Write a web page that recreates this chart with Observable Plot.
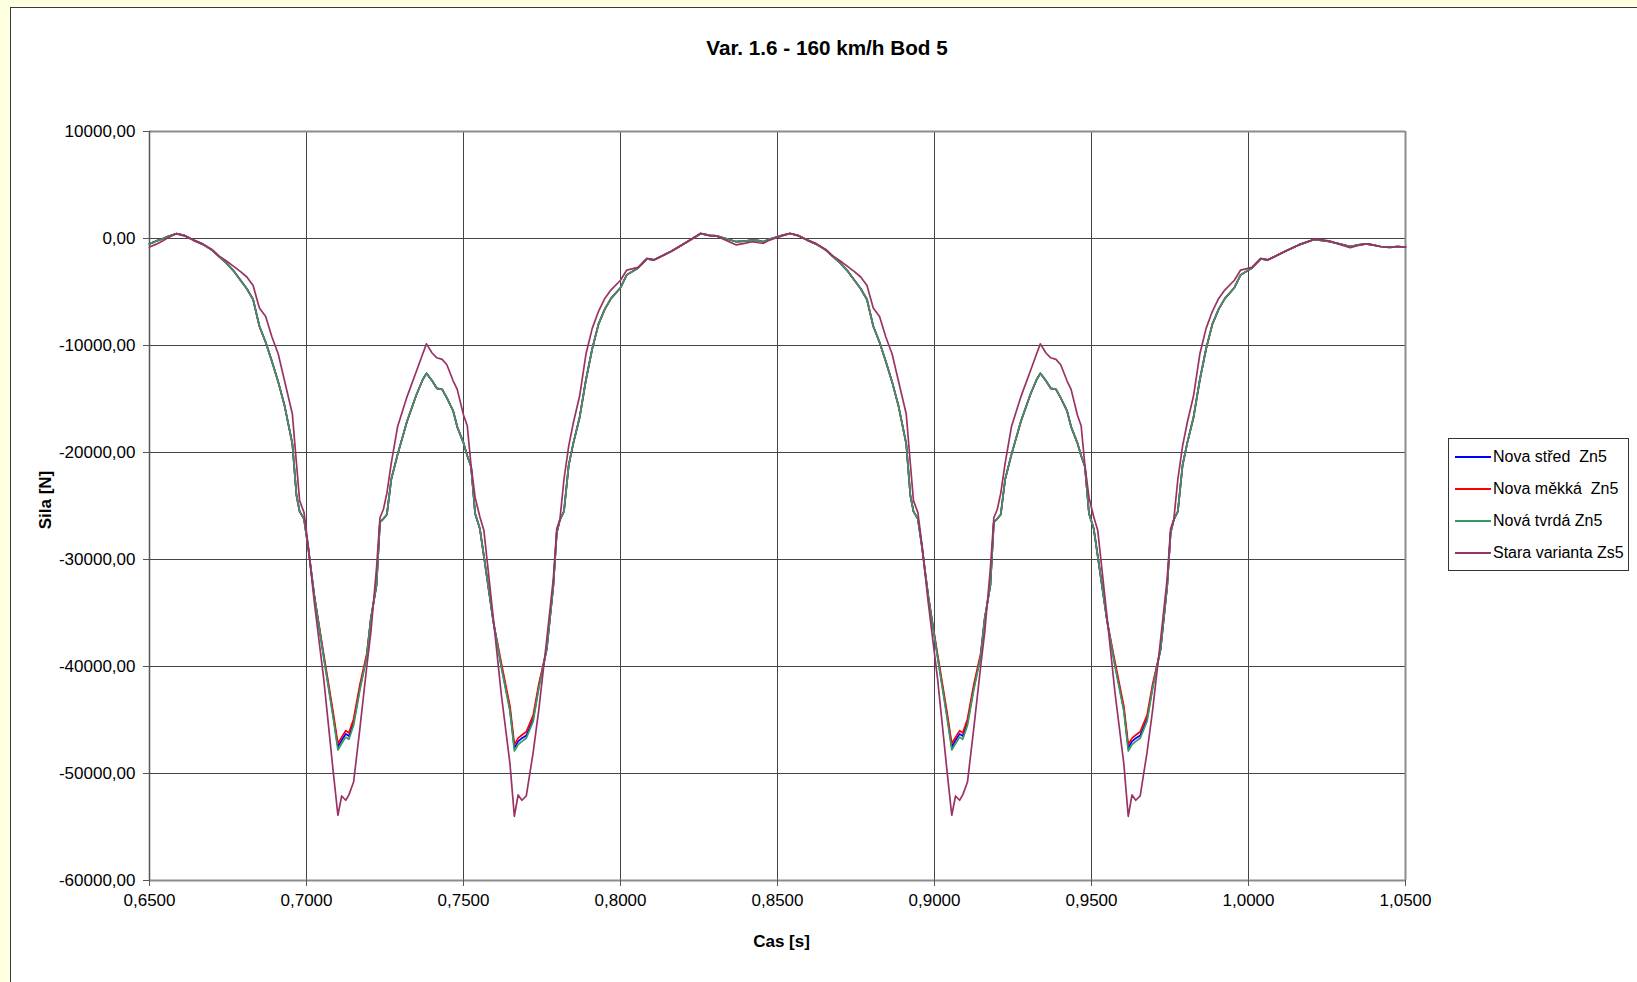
<!DOCTYPE html>
<html><head><meta charset="utf-8">
<script src="https://cdn.jsdelivr.net/npm/d3@7"></script>
<script src="https://cdn.jsdelivr.net/npm/@observablehq/plot@0.6"></script>
<style>
html,body{margin:0;padding:0;}
body{width:1637px;height:982px;overflow:hidden;background:#ffffe1;font-family:"Liberation Sans",Arial,sans-serif;position:relative;}
#panel{position:absolute;left:10px;top:7px;width:1640px;height:990px;background:#fff;border-left:1px solid #3a3a3a;border-top:1px solid #3a3a3a;}
#title{height:70px;box-sizing:border-box;padding-top:30px;padding-left:6px;width:1626px;text-align:center;font-weight:bold;font-size:20.7px;line-height:20px;color:#000;}
#row{display:flex;align-items:flex-start;}
#legend{margin-left:3px;margin-top:360px;width:181px;box-sizing:border-box;border:1px solid #333;padding:2px 0 1px 6px;font-size:16px;color:#000;}
.item{height:32px;display:flex;align-items:center;white-space:pre;}
.swatch{width:36px;height:2px;margin-right:2px;}
</style></head>
<body>
<div id="panel">
  <div id="title">Var. 1.6 - 160 km/h Bod 5</div>
  <div id="row"><div id="chart"></div><div id="legend"></div></div>
</div>
<script>
const xTicks = [0.65, 0.70, 0.75, 0.80, 0.85, 0.90, 0.95, 1.00, 1.05];
const yTicks = [10000, 0, -10000, -20000, -30000, -40000, -50000, -60000];
const xLabel = "Cas [s]";
const yLabel = "Sila [N]";

const seriesNames = ["Nova střed  Zn5", "Nova měkká  Zn5", "Nová tvrdá Zn5", "Stara varianta Zs5"];
const seriesColors = ["#0000ff", "#ff0000", "#339966", "#993366"];

const time = [
 0.6500,0.6520,0.6540,0.6560,0.6585,0.6610,0.6640,0.6670,0.6700,0.6720,
 0.6745,0.6770,0.6790,0.6810,0.6830,0.6850,0.6870,0.6890,0.6910,0.6930,
 0.6955,0.6968,0.6978,0.6992,0.7005,0.7025,0.7055,0.7085,0.7100,0.7112,
 0.7125,0.7135,0.7150,0.7170,0.7192,0.7205,0.7223,0.7234,0.7245,0.7256,
 0.7270,0.7290,0.7320,0.7350,0.7370,0.7382,0.7400,0.7415,0.7432,0.7447,
 0.7467,0.7480,0.7500,0.7512,0.7524,0.7537,0.7552,0.7565,0.7595,0.7620,
 0.7648,0.7662,0.7674,0.7686,0.7700,0.7722,0.7740,0.7765,0.7786,0.7797,
 0.7807,0.7820,0.7835,0.7850,0.7870,0.7890,0.7910,0.7930,0.7950,0.7970,
 0.8000,0.8020,0.8056,0.8084,0.8106,0.8127,0.8162,0.8205,0.8255,0.8285,
 0.8305,0.8335,0.8369,0.8395,0.8420,0.8440,
 0.8455,0.8475,0.8495,0.8515,0.8540,0.8565,0.8595,0.8625,0.8655,0.8675,
 0.8700,0.8725,0.8745,0.8765,0.8785,0.8805,0.8825,0.8845,0.8865,0.8885,
 0.8910,0.8923,0.8933,0.8947,0.8960,0.8980,0.9010,0.9040,0.9055,0.9067,
 0.9080,0.9090,0.9105,0.9125,0.9147,0.9160,0.9178,0.9189,0.9200,0.9211,
 0.9225,0.9245,0.9275,0.9305,0.9325,0.9337,0.9355,0.9370,0.9387,0.9402,
 0.9422,0.9435,0.9455,0.9467,0.9479,0.9492,0.9507,0.9520,0.9550,0.9575,
 0.9603,0.9617,0.9629,0.9641,0.9655,0.9677,0.9695,0.9720,0.9741,0.9752,
 0.9762,0.9775,0.9790,0.9805,0.9825,0.9845,0.9865,0.9885,0.9905,0.9925,
 0.9955,0.9975,1.0011,1.0039,1.0061,1.0082,1.0117,1.0160,1.0210,1.0240,
 1.0260,1.0290,1.0324,1.0350,1.0375,1.0395,
 1.0420,1.0450,1.0475,1.0500
];

const novaStred = [
 -500,-250,-50,200,450,300,-150,-550,-1100,-1650,
 -2300,-3100,-3900,-4700,-5700,-8200,-9700,-11500,-13400,-15600,
 -19200,-24000,-25500,-26200,-28800,-33400,-39100,-44600,-47500,-46900,
 -46300,-46500,-45250,-42000,-39000,-35500,-32400,-26500,-26200,-25800,
 -22500,-20200,-17100,-14600,-13200,-12600,-13300,-14000,-14100,-14900,
 -16100,-17600,-19100,-20300,-21300,-25700,-27100,-29700,-35800,-39900,
 -44000,-47600,-47000,-46700,-46450,-44900,-41850,-38400,-32500,-27500,
 -26300,-25500,-21200,-19100,-16700,-13200,-10300,-8000,-6600,-5600,
 -4600,-3400,-2750,-1900,-2000,-1700,-1200,-450,450,300,
 250,0,-300,-250,-150,-200,
 -300,-50,100,300,450,300,-150,-550,-1100,-1650,
 -2300,-3100,-3900,-4700,-5700,-8200,-9700,-11500,-13400,-15600,
 -19200,-24000,-25500,-26200,-28800,-33400,-39100,-44600,-47500,-46900,
 -46300,-46500,-45250,-42000,-39000,-35500,-32400,-26500,-26200,-25800,
 -22500,-20200,-17100,-14600,-13200,-12600,-13300,-14000,-14100,-14900,
 -16100,-17600,-19100,-20300,-21300,-25700,-27100,-29700,-35800,-39900,
 -44000,-47600,-47000,-46700,-46450,-44900,-41850,-38400,-32500,-27500,
 -26300,-25500,-21200,-19100,-16700,-13200,-10300,-8000,-6600,-5600,
 -4600,-3400,-2750,-1900,-2000,-1700,-1200,-600,-100,-200,
 -300,-500,-750,-600,-500,-600,
 -750,-800,-750,-800
];

const novaMekka = [
 -500,-250,-50,200,450,300,-150,-550,-1100,-1650,
 -2300,-3100,-3900,-4700,-5700,-8200,-9700,-11500,-13400,-15600,
 -19200,-24000,-25500,-26200,-28800,-33400,-38900,-44300,-47200,-46600,
 -46000,-46200,-44900,-41700,-38800,-35500,-32400,-26500,-26200,-25800,
 -22500,-20200,-17100,-14600,-13200,-12600,-13300,-14000,-14100,-14900,
 -16100,-17600,-19100,-20300,-21300,-25700,-27100,-29700,-35800,-39600,
 -43700,-47300,-46700,-46400,-46100,-44550,-41600,-38400,-32500,-27500,
 -26300,-25500,-21200,-19100,-16700,-13200,-10300,-8000,-6600,-5600,
 -4600,-3400,-2750,-1900,-2000,-1700,-1200,-450,450,300,
 250,0,-300,-250,-150,-200,
 -300,-50,100,300,450,300,-150,-550,-1100,-1650,
 -2300,-3100,-3900,-4700,-5700,-8200,-9700,-11500,-13400,-15600,
 -19200,-24000,-25500,-26200,-28800,-33400,-38900,-44300,-47200,-46600,
 -46000,-46200,-44900,-41700,-38800,-35500,-32400,-26500,-26200,-25800,
 -22500,-20200,-17100,-14600,-13200,-12600,-13300,-14000,-14100,-14900,
 -16100,-17600,-19100,-20300,-21300,-25700,-27100,-29700,-35800,-39600,
 -43700,-47300,-46700,-46400,-46100,-44550,-41600,-38400,-32500,-27500,
 -26300,-25500,-21200,-19100,-16700,-13200,-10300,-8000,-6600,-5600,
 -4600,-3400,-2750,-1900,-2000,-1700,-1200,-600,-100,-200,
 -300,-500,-750,-600,-500,-600,
 -750,-800,-750,-800
];

const novaTvrda = [
 -500,-250,-50,200,450,300,-150,-550,-1100,-1650,
 -2300,-3100,-3900,-4700,-5700,-8200,-9700,-11500,-13400,-15600,
 -19200,-24000,-25500,-26200,-28800,-33400,-39200,-44800,-47800,-47200,
 -46600,-46800,-45500,-42200,-39100,-35500,-32400,-26500,-26200,-25800,
 -22500,-20200,-17100,-14600,-13200,-12600,-13300,-14000,-14100,-14900,
 -16100,-17600,-19100,-20300,-21300,-25700,-27100,-29700,-35800,-40000,
 -44200,-47900,-47300,-47000,-46700,-45100,-42000,-38400,-32500,-27500,
 -26300,-25500,-21200,-19100,-16700,-13200,-10300,-8000,-6600,-5600,
 -4600,-3400,-2750,-1900,-2000,-1700,-1200,-450,450,300,
 250,0,-300,-250,-150,-200,
 -300,-50,100,300,450,300,-150,-550,-1100,-1650,
 -2300,-3100,-3900,-4700,-5700,-8200,-9700,-11500,-13400,-15600,
 -19200,-24000,-25500,-26200,-28800,-33400,-39200,-44800,-47800,-47200,
 -46600,-46800,-45500,-42200,-39100,-35500,-32400,-26500,-26200,-25800,
 -22500,-20200,-17100,-14600,-13200,-12600,-13300,-14000,-14100,-14900,
 -16100,-17600,-19100,-20300,-21300,-25700,-27100,-29700,-35800,-40000,
 -44200,-47900,-47300,-47000,-46700,-45100,-42000,-38400,-32500,-27500,
 -26300,-25500,-21200,-19100,-16700,-13200,-10300,-8000,-6600,-5600,
 -4600,-3400,-2750,-1900,-2000,-1700,-1200,-600,-100,-200,
 -300,-500,-750,-600,-500,-600,
 -750,-800,-750,-800
];

const staraVarianta = [
 -800,-550,-250,100,450,250,-150,-500,-1050,-1600,
 -2100,-2650,-3100,-3600,-4400,-6500,-7300,-9200,-10800,-13300,
 -16400,-21000,-24500,-25600,-28600,-34000,-41200,-49800,-53900,-52100,
 -52500,-52000,-50800,-45800,-40000,-36800,-30800,-26100,-25300,-23800,
 -21000,-17600,-14800,-12400,-10800,-9850,-10700,-11150,-11300,-11800,
 -13300,-14100,-16500,-17500,-21200,-24200,-26000,-27300,-35500,-42500,
 -49100,-54000,-52000,-52500,-52100,-48000,-44000,-37500,-31800,-27100,
 -26300,-22500,-19400,-17200,-14700,-10800,-8400,-6800,-5600,-4800,
 -3900,-2950,-2700,-1850,-2000,-1700,-1200,-450,490,250,
 230,-150,-600,-450,-300,-400,
 -450,-150,50,250,490,250,-150,-500,-1050,-1600,
 -2100,-2650,-3100,-3600,-4400,-6500,-7300,-9200,-10800,-13300,
 -16400,-21000,-24500,-25600,-28600,-34000,-41200,-49800,-53900,-52100,
 -52500,-52000,-50800,-45800,-40000,-36800,-30800,-26100,-25300,-23800,
 -21000,-17600,-14800,-12400,-10800,-9850,-10700,-11150,-11300,-11800,
 -13300,-14100,-16500,-17500,-21200,-24200,-26000,-27300,-35500,-42500,
 -49100,-54000,-52000,-52500,-52100,-48000,-44000,-37500,-31800,-27100,
 -26300,-22500,-19400,-17200,-14700,-10800,-8400,-6800,-5600,-4800,
 -3900,-2950,-2700,-1850,-2000,-1700,-1200,-600,-50,-150,
 -250,-550,-850,-650,-500,-600,
 -750,-850,-750,-800
];

const seriesValues = [novaStred, novaMekka, novaTvrda, staraVarianta];
const fmt = (d, n) => d.toFixed(n).replace(".", ",");

const lineMarks = seriesValues.map((vals, i) =>
  Plot.line(time.map((t, j) => ({t, v: vals[j]})), {x: "t", y: "v", stroke: seriesColors[i], strokeWidth: 1.7})
);

const chart = Plot.plot({
  width: 1434, height: 904,
  marginLeft: 138, marginRight: 40, marginTop: 53, marginBottom: 102,
  style: {fontSize: "17px", fontFamily: "'Liberation Sans', Arial, sans-serif", color: "#000", background: "white"},
  x: {type: "linear", domain: [0.65, 1.05]},
  y: {type: "linear", domain: [-60000, 10000]},
  marks: [
    Plot.gridX(xTicks.slice(0, -1), {stroke: "#444", strokeOpacity: 1}),
    Plot.gridY(yTicks.slice(1, -1), {stroke: "#444", strokeOpacity: 1}),
    Plot.ruleY([10000, -60000], {stroke: "#8c8c8c", strokeWidth: 2}),
    Plot.ruleX([1.05], {stroke: "#8c8c8c", strokeWidth: 2}),
    Plot.ruleX([0.65], {stroke: "#555", strokeWidth: 1.5}),
    Plot.axisX({ticks: xTicks, tickFormat: d => fmt(d, 4), label: null, tickSize: 6, tickPadding: 7, stroke: "#555"}),
    Plot.axisY({ticks: yTicks, tickFormat: d => fmt(d, 2), label: null, tickSize: 6, tickPadding: 8, stroke: "#555"}),
    Plot.text([xLabel], {frameAnchor: "bottom", lineAnchor: "bottom", dy: 66, dx: 4, fontWeight: "bold", fill: "#000"}),
    Plot.text([yLabel], {frameAnchor: "left", textAnchor: "middle", lineAnchor: "top", rotate: -90, dx: -111, dy: -6, fontWeight: "bold", fill: "#000"}),
    ...lineMarks
  ]
});
document.getElementById("chart").appendChild(chart);

const legend = document.getElementById("legend");
seriesNames.forEach((name, i) => {
  const item = document.createElement("div");
  item.className = "item";
  const sw = document.createElement("span");
  sw.className = "swatch";
  sw.style.background = seriesColors[i];
  const label = document.createElement("span");
  label.textContent = name;
  item.appendChild(sw);
  item.appendChild(label);
  legend.appendChild(item);
});
</script>
</body></html>
